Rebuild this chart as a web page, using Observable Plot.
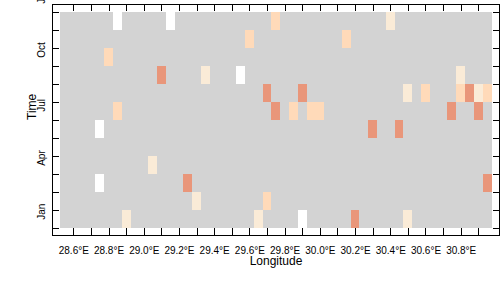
<!DOCTYPE html>
<html>
<head>
<meta charset="utf-8">
<script src="https://cdn.jsdelivr.net/npm/d3@7"></script>
<script src="https://cdn.jsdelivr.net/npm/@observablehq/plot@0.6"></script>
<style>
  html, body { margin: 0; padding: 0; background: #fff; }
  #chart svg { display: block; font-family: "Liberation Sans", Arial, sans-serif; }
</style>
</head>
<body>
<div id="chart"></div>
<script>
// Grid of longitudes (cell centres, 0.05° wide) and months (rows)
const lonCenters = [28.55, 28.60, 28.65, 28.70, 28.75, 28.80, 28.85, 28.90, 28.95, 29.00,
  29.05, 29.10, 29.15, 29.20, 29.25, 29.30, 29.35, 29.40, 29.45, 29.50,
  29.55, 29.60, 29.65, 29.70, 29.75, 29.80, 29.85, 29.90, 29.95, 30.00,
  30.05, 30.10, 30.15, 30.20, 30.25, 30.30, 30.35, 30.40, 30.45, 30.50,
  30.55, 30.60, 30.65, 30.70, 30.75, 30.80, 30.85, 30.90, 30.95];
const months = ["Jan", "Feb", "Mar", "Apr", "May", "Jun", "Jul", "Aug", "Sep", "Oct", "Nov", "Dec"];

// Coloured cells: longitude, month, class (0 white, 1 cream, 2 peach, 3 salmon)
const cellLon = [
  28.85, 29.15, 29.75, 30.40,
  29.60, 30.15,
  28.80,
  29.10, 29.35, 29.55, 30.80,
  29.70, 29.90, 30.50, 30.60, 30.80, 30.85, 30.90, 30.95,
  28.85, 29.75, 29.85, 29.95, 30.00, 30.75, 30.90,
  28.75, 30.30, 30.45,
  29.05,
  28.75, 29.25, 30.95,
  29.30, 29.70,
  28.90, 29.65, 29.90, 30.20, 30.50];
const cellMonth = [
  "Dec", "Dec", "Dec", "Dec",
  "Nov", "Nov",
  "Oct",
  "Sep", "Sep", "Sep", "Sep",
  "Aug", "Aug", "Aug", "Aug", "Aug", "Aug", "Aug", "Aug",
  "Jul", "Jul", "Jul", "Jul", "Jul", "Jul", "Jul",
  "Jun", "Jun", "Jun",
  "Apr",
  "Mar", "Mar", "Mar",
  "Feb", "Feb",
  "Jan", "Jan", "Jan", "Jan", "Jan"];
const cellClass = [
  0, 0, 2, 1,
  2, 2,
  2,
  3, 1, 0, 1,
  3, 3, 1, 2, 2, 3, 1, 2,
  2, 3, 2, 2, 2, 3, 3,
  0, 3, 3,
  1,
  0, 3, 3,
  1, 2,
  1, 1, 0, 3, 1];

const classColors = ["#ffffff", "#faebd7", "#ffdab9", "#e9967a"];
const emptyColor = "#d3d3d3";

// Axis ticks and labels
const xTicks = [28.6, 28.7, 28.8, 28.9, 29.0, 29.1, 29.2, 29.3, 29.4, 29.5, 29.6, 29.7,
  29.8, 29.9, 30.0, 30.1, 30.2, 30.3, 30.4, 30.5, 30.6, 30.7, 30.8, 30.9];
const xLabelTicks = [28.6, 28.8, 29.0, 29.2, 29.4, 29.6, 29.8, 30.0, 30.2, 30.4, 30.6, 30.8];
const yTicks = [0, 1, 2, 3, 4, 5, 6, 7, 8, 9, 10, 11, 12];
const yLabelText = ["Jan", "Apr", "Jul", "Oct", "Jan"];
const yLabelPos = [0.5, 3.5, 6.5, 9.5, 12.5];

const half = 0.025;
const grid = [];
for (const m of months) for (const lon of lonCenters) grid.push({lon, m: months.indexOf(m)});
const cells = cellLon.map((lon, i) => ({lon, m: months.indexOf(cellMonth[i]), c: cellClass[i]}));
const yLabels = yLabelText.map((t, i) => ({t, y: yLabelPos[i]}));

const W = 504, H = 288, mL = 52, mR = 5, mT = 4, mB = 53;
const fw = W - mL - mR, fh = H - mT - mB;
const tick = 7;

const chart = Plot.plot({
  width: W, height: H,
  marginLeft: mL, marginRight: mR, marginTop: mT, marginBottom: mB,
  style: {fontFamily: "'Liberation Sans', Arial, sans-serif", background: "#fff"},
  x: {type: "linear", domain: [28.479, 31.0175], axis: null},
  y: {type: "linear", domain: [-0.372, 12.461], axis: null},
  color: {type: "ordinal", domain: [0, 1, 2, 3], range: classColors},
  marks: [
    Plot.rect(grid, {x1: d => d.lon - half, x2: d => d.lon + half, y1: d => d.m, y2: d => d.m + 1,
      fill: emptyColor, shapeRendering: "crispEdges"}),
    Plot.rect(cells, {x1: d => d.lon - half, x2: d => d.lon + half, y1: d => d.m, y2: d => d.m + 1,
      fill: d => d.c, shapeRendering: "crispEdges"}),
    // ticks, pointing inward on all four sides
    Plot.tickX(xTicks, {x: d => d, insetTop: fh - tick, stroke: "black", shapeRendering: "crispEdges"}),
    Plot.tickX(xTicks, {x: d => d, insetBottom: fh - tick, stroke: "black", shapeRendering: "crispEdges"}),
    Plot.tickY(yTicks, {y: d => d, insetRight: fw - tick, stroke: "black", shapeRendering: "crispEdges"}),
    Plot.tickY(yTicks, {y: d => d, insetLeft: fw - 6, stroke: "black", shapeRendering: "crispEdges"}),
    Plot.frame({stroke: "black", shapeRendering: "crispEdges"}),
    // tick labels
    Plot.text(xLabelTicks, {x: d => d, text: d => `${d.toFixed(1)}°E`, frameAnchor: "bottom",
      lineAnchor: "bottom", dy: 18.3, fontSize: 10, fill: "black"}),
    Plot.text(yLabels, {y: "y", text: "t", frameAnchor: "left", dx: -11, rotate: -90,
      fontSize: 10, fill: "black"}),
    // axis titles
    Plot.text(["Longitude"], {text: d => d, frameAnchor: "bottom", lineAnchor: "bottom", dy: 29,
      fontSize: 12, fill: "black"}),
    Plot.text(["Time"], {text: d => d, frameAnchor: "left", dx: -20.8, rotate: -90,
      fontSize: 12, fill: "black"})
  ]
});
document.getElementById("chart").appendChild(chart);
</script>
</body>
</html>
